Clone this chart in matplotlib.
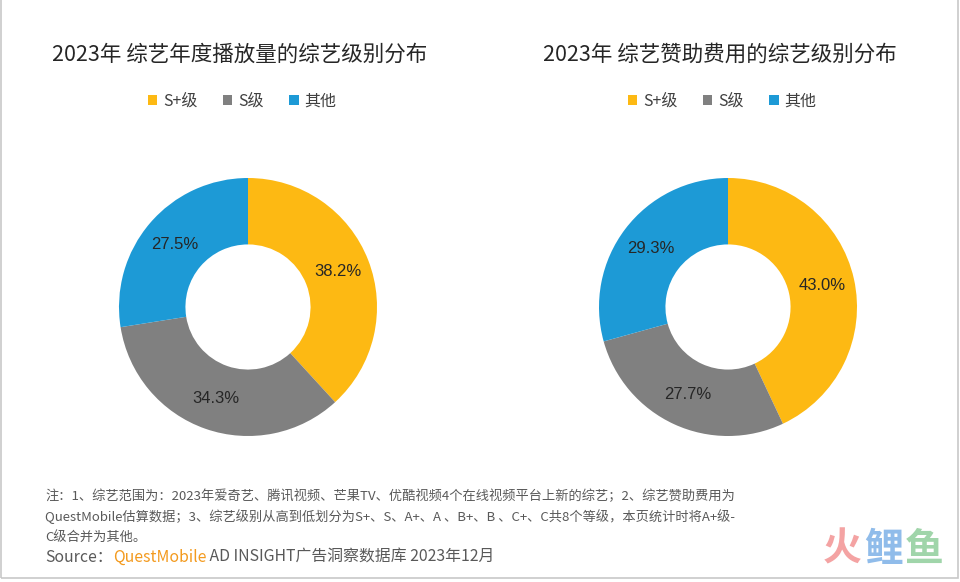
import matplotlib
matplotlib.use("Agg")
import matplotlib.pyplot as plt
from matplotlib.patches import Patch, Rectangle

plt.rcParams['font.family'] = ['Noto Sans CJK SC', 'DejaVu Sans']

# 数据
categories = ['S+级', 'S级', '其他']
play_share = [38.2, 34.3, 27.5]      # 年度播放量
sponsor_share = [43.0, 27.7, 29.3]   # 赞助费用
titles = ['2023年 综艺年度播放量的综艺级别分布', '2023年 综艺赞助费用的综艺级别分布']
colors = ['#FDB913', '#808080', '#1D9AD6']

W, H = 960, 582
fig = plt.figure(figsize=(W / 100, H / 100), dpi=100)
fig.patch.set_facecolor('white')

# 外框
fig.patches.append(Rectangle((1 / W, 4 / H), 957 / W, 1.5, transform=fig.transFigure,
                             fill=False, edgecolor='#C8C8C8', linewidth=1.2, zorder=-2))


def px(x, y):
    return x / W, 1 - y / H


def donut(cx, cy, vals, title, title_x):
    r = 129
    ax = fig.add_axes([(cx - r) / W, 1 - (cy + r) / H, 2 * r / W, 2 * r / H])
    ax.patch.set_visible(False)
    ax.pie(vals, colors=colors, startangle=90, counterclock=False,
           radius=1, autopct='%.1f%%', pctdistance=0.75,
           wedgeprops=dict(width=0.515, edgecolor='none'),
           textprops=dict(fontsize=12, color='#262626',
                          family=['Liberation Sans', 'DejaVu Sans']))
    ax.set_xlim(-1, 1)
    ax.set_ylim(-1, 1)
    ax.set_aspect('equal')
    x, y = px(title_x, 55)
    fig.text(x, y, title, ha='center', va='center', fontsize=15.5, color='#262626')
    handles = [Patch(facecolor=c, edgecolor='none') for c in colors]
    lx, ly = px(cx - 6, 101)
    fig.legend(handles, categories, loc='center', bbox_to_anchor=(lx, ly), ncol=3,
               frameon=False, fontsize=11.5, handlelength=0.6, handleheight=0.6,
               handletextpad=0.35, columnspacing=1.6, labelcolor='#404040')


donut(248, 307, play_share, titles[0], 240)
donut(728, 307, sponsor_share, titles[1], 720)

# 注释
notes = ['注：1、综艺范围为：2023年爱奇艺、腾讯视频、芒果TV、优酷视频4个在线视频平台上新的综艺；2、综艺赞助费用为',
         'QuestMobile估算数据；3、综艺级别从高到低划分为S+、S、A+、A 、B+、B 、C+、C共8个等级，本页统计时将A+级-',
         'C级合并为其他。']
for i, line in enumerate(notes):
    x, y = px(45, 496 + i * 21)
    fig.text(x, y, line, ha='left', va='center', fontsize=9.5, color='#595959')

# Source 行
fig.canvas.draw()
renderer = fig.canvas.get_renderer()
x, y = px(45, 557)
parts = [('Source：', '#595959'), ('QuestMobile', '#F39A1E'),
         (' AD INSIGHT广告洞察数据库 2023年12月', '#595959')]
for s, c in parts:
    t = fig.text(x, y, s, ha='left', va='center', fontsize=11.4, color=c)
    bb = t.get_window_extent(renderer=renderer)
    x += bb.width / W

# 火鲤鱼 水印
for s, c, xx in [('火', '#F4A3A3', 842), ('鲤', '#90BCEA', 884), ('鱼', '#A0D5AA', 924)]:
    x, y = px(xx, 549)
    fig.text(x, y, s, ha='center', va='center', fontsize=28, fontweight='bold', color=c)

fig.savefig('out.png', dpi=100, facecolor='white')
